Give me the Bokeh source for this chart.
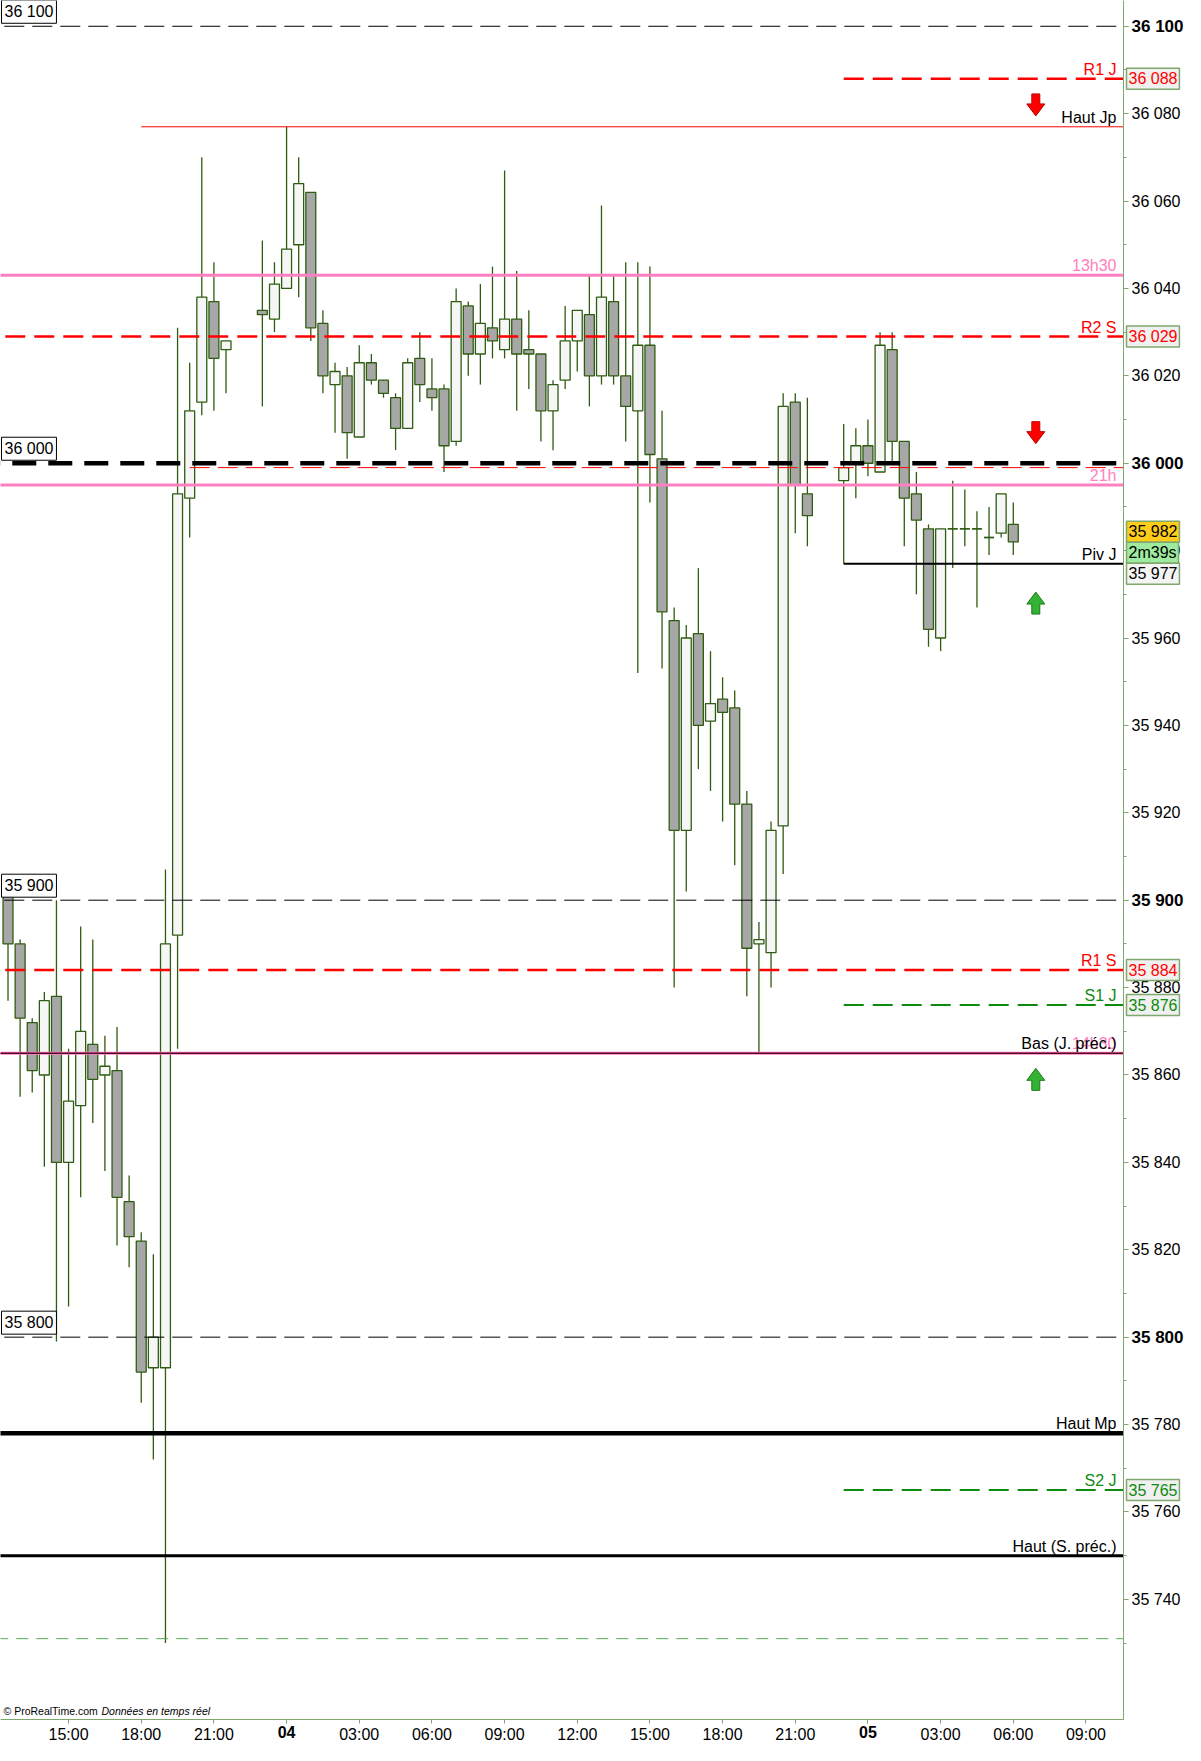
import numpy as np
import pandas as pd
from bokeh.plotting import figure
from bokeh.models import ColumnDataSource, Range1d, Label, FixedTicker, LinearAxis
from bokeh.embed import file_html
from bokeh.resources import INLINE

# half-hour candles, time in hours from 03 00:00 (market pause 22:00-23:00)
times = [12.5, 13, 13.5, 14, 14.5, 15, 15.5, 16, 16.5, 17, 17.5, 18, 18.5, 19, 19.5,
         20, 20.5, 21, 21.5, 23, 23.5, 24, 24.5, 25, 25.5, 26, 26.5, 27, 27.5,
         28, 28.5, 29, 29.5, 30, 30.5, 31, 31.5, 32, 32.5, 33, 33.5, 34, 34.5,
         35, 35.5, 36, 36.5, 37, 37.5, 38, 38.5, 39, 39.5, 40, 40.5, 41, 41.5,
         42, 42.5, 43, 43.5, 44, 44.5, 45, 45.5, 47, 47.5, 48, 48.5, 49, 49.5,
         50, 50.5, 51, 51.5, 52, 52.5, 53, 53.5, 54]
opens = [35901, 35890, 35872, 35860, 35878, 35840, 35853, 35867, 35860, 35861, 35831, 35822, 35793, 35793, 35892,
         35992, 36014, 36037, 36026, 36035, 36033, 36040, 36050, 36062, 36032, 36018, 36020, 36006, 36023,
         36019, 36015, 36008, 36024, 36017, 36017, 36005, 36036, 36025, 36031, 36026, 36033, 36026, 36025,
         36012, 36019, 36028, 36034, 36020, 36037, 36020, 36012, 36027, 36001, 35964, 35916, 35961, 35941,
         35946, 35944, 35922, 35890, 35888, 35917, 36014, 35993, 35996, 36000, 36004, 35998, 36026, 36005,
         35993, 35985, 35960, 35985, 35985, 35985, 35983, 35984, 35986]
highs = [35903, 35891, 35873, 35879, 35900, 35866, 35894, 35891, 35869, 35871, 35837, 35824, 35819, 35907, 36031,
         36023, 36070, 36046, 36028, 36051, 36046, 36077, 36070, 36062, 36035, 36023, 36022, 36027, 36025,
         36019, 36016, 36024, 36030, 36024, 36018, 36040, 36037, 36041, 36045, 36067, 36044, 36035, 36025,
         36019, 36036, 36035, 36043, 36059, 36043, 36046, 36046, 36045, 36012, 35967, 35963, 35976, 35957,
         35951, 35948, 35925, 35895, 35918, 36016, 36016, 36015, 36009, 36008, 36010, 36030, 36030, 36005,
         35998, 35986, 35985, 35996, 35994, 35989, 35990, 35993, 35991]
lows = [35877, 35855, 35856, 35839, 35799, 35807, 35832, 35849, 35838, 35821, 35816, 35785, 35772, 35730, 35866,
        35983, 36011, 36012, 36016, 36013, 36030, 36040, 36038, 36028, 36016, 36007, 36001, 36006, 36018,
        36015, 36003, 36008, 36014, 36012, 35998, 36004, 36020, 36018, 36024, 36024, 36012, 36017, 36005,
        36003, 36017, 36021, 36013, 36018, 36018, 36005, 35952, 35991, 35953, 35880, 35902, 35930, 35925,
        35918, 35908, 35878, 35865, 35880, 35906, 35984, 35981, 35977, 35992, 35997, 35998, 36000, 35981,
        35970, 35958, 35957, 35976, 35981, 35967, 35979, 35983, 35979]
closes = [35890, 35873, 35861, 35877, 35840, 35854, 35870, 35859, 35862, 35832, 35823, 35792, 35800, 35890, 35993,
          36012, 36038, 36024, 36028, 36034, 36041, 36049, 36064, 36031, 36020, 36021, 36007, 36023, 36019,
          36016, 36008, 36023, 36018, 36015, 36004, 36037, 36025, 36032, 36028, 36033, 36025, 36025, 36012,
          36018, 36028, 36035, 36020, 36038, 36020, 36013, 36027, 36002, 35966, 35916, 35960, 35940, 35945,
          35943, 35922, 35889, 35891, 35916, 36013, 35995, 35988, 35999, 36004, 36000, 36027, 36005, 35992,
          35987, 35962, 35985, 35985, 35985, 35985, 35983, 35993, 35982]

# price levels
round_levels = [36100, 36000, 35900, 35800]
round_labels = ["36 100", "36 000", "35 900", "35 800"]
r1_j, r2_s, r1_s = 36088, 36029, 35884
s1_j, s2_j = 35876, 35765
piv_j = 35977
haut_jp = 36077
haut_mp = 35778
haut_s_prec = 35750
bas_j_prec = 35865
pink_1330, pink_21h = 36043, 35995
thin_red = 35999
low_mark = 35731
last_price = 35982
timer_text = "2m39s"
jour_start = 47      # daily levels start at 23:00 on the 04
haut_jp_start = 18
thin_red_start = 20

arrow_prices = [36082, 36007, 35968, 35859]
arrow_dirs = ["down", "down", "up", "up"]
arrow_time = 54.93

y_ticks = [35740, 35760, 35780, 35800, 35820, 35840, 35860, 35880, 35900, 35920,
           35940, 35960, 35980, 36000, 36020, 36040, 36060, 36080, 36100]
y_minor = [35730, 35750, 35770, 35790, 35810, 35830, 35850, 35870, 35890, 35910,
           35930, 35950, 35970, 35990, 36010, 36030, 36050, 36070, 36090]
y_bold = [35800, 35900, 36000, 36100]
x_ticks = [15, 18, 21, 24, 27, 30, 33, 36, 39, 42, 45, 48, 51, 54, 57]
x_tick_labels = ["15:00", "18:00", "21:00", "04", "03:00", "06:00", "09:00", "12:00",
                 "15:00", "18:00", "21:00", "05", "03:00", "06:00", "09:00"]
x_bold = ["04", "05"]

# chart area: data window inside a full-canvas frame, axes pinned at its edges
X0, X1 = 12.19, 58.55
Y0, Y1 = 35712.5, 36105.9
W, H = 1185, 1745
FW, FH = 1123, 1719
hpp = (X1 - X0) / FW
ppp = (Y1 - Y0) / FH
XR = X1 + (W - FW) * hpp
YB = Y0 - (H - FH) * ppp

FONT = "Liberation Sans"
RED = "#ff0000"
GREEN = "#0e8a0e"
PINK = "#ff80c0"
AXIS = "#7fa86e"
WICK = "#2f5c12"


def fmt(v):
    return f"{v:,}".replace(",", " ")


p = figure(width=W, height=H, x_range=Range1d(X0, XR), y_range=Range1d(YB, Y1),
           output_backend="svg", toolbar_location=None,
           x_axis_location=None, y_axis_location=None, min_border=0)
p.outline_line_color = None
p.grid.visible = False
p.background_fill_color = "white"


def style_axis(ax, size, bold=False):
    ax.axis_line_color = AXIS
    ax.major_tick_line_color = AXIS
    ax.minor_tick_line_color = AXIS
    ax.major_tick_in = 0
    ax.minor_tick_in = 0
    ax.major_label_text_font = FONT
    ax.major_label_text_font_size = size
    ax.major_label_text_color = "black"
    if bold:
        ax.major_label_text_font_style = "bold"


ya = LinearAxis(fixed_location=X1, bounds=(Y0, Y1),
                ticker=FixedTicker(ticks=y_ticks, minor_ticks=y_minor),
                major_label_overrides={t: ("" if t in y_bold else fmt(t)) for t in y_ticks})
ya_b = LinearAxis(fixed_location=X1, bounds=(Y0, Y1), ticker=FixedTicker(ticks=y_bold),
                  major_label_overrides={t: fmt(t) for t in y_bold})
xa = LinearAxis(fixed_location=Y0, bounds=(X0, X1), ticker=FixedTicker(ticks=x_ticks),
                major_label_overrides={t: ("" if lab in x_bold else lab)
                                       for t, lab in zip(x_ticks, x_tick_labels)})
bold_x = [t for t, lab in zip(x_ticks, x_tick_labels) if lab in x_bold]
xa_b = LinearAxis(fixed_location=Y0, bounds=(X0, X1), ticker=FixedTicker(ticks=bold_x),
                  major_label_overrides={t: lab for t, lab in zip(x_ticks, x_tick_labels)
                                         if lab in x_bold})
style_axis(ya, "16px")
style_axis(ya_b, "17px", bold=True)
style_axis(xa, "16px")
style_axis(xa_b, "16px", bold=True)
for ax in (ya, ya_b):
    ax.major_tick_out = 5
    ax.minor_tick_out = 3
    ax.major_label_standoff = 3
for ax in (xa, xa_b):
    ax.major_tick_out = 4
    ax.minor_tick_out = 0
    ax.major_label_standoff = 2
p.add_layout(ya, "right")
p.add_layout(ya_b, "right")
p.add_layout(xa, "below")
p.add_layout(xa_b, "below")

# candles
df = pd.DataFrame(dict(t=times, o=opens, h=highs, l=lows, c=closes))
df["top"] = df[["o", "c"]].max(axis=1)
df["bottom"] = df[["o", "c"]].min(axis=1)
df["fill"] = np.where(df["c"] > df["o"], "#f6f6f6", "#a7a7a7")
src = ColumnDataSource(df)
BODY = 0.41
p.segment(x0="t", y0="l", x1="t", y1="h", source=src, line_color=WICK, line_width=1.3)
p.vbar(x="t", width=BODY, top="top", bottom="bottom", fill_color="fill",
       line_color=WICK, line_width=1.3, source=src)
doji = df[df["o"] == df["c"]]
p.segment(x0=doji["t"] - BODY / 2, y0=doji["o"], x1=doji["t"] + BODY / 2, y1=doji["o"],
          line_color=WICK, line_width=1.3)


# horizontal levels, ending at the price axis
def hline(v, color, width, dash="solid", start=None):
    x0 = X0 - 1 if start is None else start
    p.segment(x0=[x0], y0=[v], x1=[X1], y1=[v], line_color=color,
              line_width=width, line_dash=dash)


for v in round_levels:
    if v == 36000:
        hline(v, "black", 4.5, "24 12")
    else:
        hline(v, "black", 1, "20 8")
hline(pink_1330, PINK, 3)
hline(pink_21h, PINK, 3)
hline(bas_j_prec, PINK, 3)
hline(bas_j_prec, "#5a0828", 1.5)
hline(r2_s, RED, 2.5, "20 9")
hline(r1_s, RED, 2.5, "20 9")
hline(haut_mp, "black", 4.5)
hline(haut_s_prec, "black", 3)
hline(low_mark, "#5aa85a", 1, "12 8")
hline(haut_jp, RED, 1, start=haut_jp_start)
hline(thin_red, RED, 1, "20 8", start=thin_red_start)
hline(r1_j, RED, 2.5, "20 9", start=jour_start)
hline(s1_j, GREEN, 2, "20 9", start=jour_start)
hline(s2_j, GREEN, 2, "20 9", start=jour_start)
hline(piv_j, "black", 2, start=jour_start)

# arrows (shape in pixels around the anchor)
shape = [(-4, 11), (4, 11), (4, 1), (9, 1), (0, -11), (-9, 1), (-4, 1)]
for v, d in zip(arrow_prices, arrow_dirs):
    sgn = 1 if d == "down" else -1
    xs = [arrow_time + dx * hpp for dx, dy in shape]
    ys = [v + sgn * dy * ppp for dx, dy in shape]
    if d == "down":
        p.patch(xs, ys, fill_color="#ff0000", line_color="#c00000", line_width=1)
    else:
        p.patch(xs, ys, fill_color="#33b233", line_color="#1c7a1c", line_width=1)


# texts on the right end of the levels
def tag(v, text, color):
    p.add_layout(Label(x=X1, y=v, text=text, x_offset=-7, y_offset=1, text_align="right",
                       text_baseline="bottom", text_font=FONT, text_font_size="16px",
                       text_color=color))


tag(r1_j, "R1 J", RED)
tag(haut_jp, "Haut Jp", "black")
tag(pink_1330, "13h30", PINK)
tag(r2_s, "R2 S", RED)
tag(pink_21h, "21h", PINK)
tag(piv_j, "Piv J", "black")
tag(r1_s, "R1 S", RED)
tag(s1_j, "S1 J", GREEN)
tag(bas_j_prec, "14h30", PINK)
tag(bas_j_prec, "Bas (J. préc.)", "black")
tag(haut_mp, "Haut Mp", "black")
tag(s2_j, "S2 J", GREEN)
tag(haut_s_prec, "Haut (S. préc.)", "black")

# boxed round numbers on the left
for v, lab in zip(round_levels, round_labels):
    p.add_layout(Label(x=X0, y=v, text=lab, x_offset=1, y_offset=3, text_baseline="bottom",
                       text_font=FONT, text_font_size="16px", text_color="black",
                       background_fill_color="white", border_line_color="black",
                       border_line_width=1, padding=3))


# value boxes on the price axis
def vbox(v, text, color, bg, dy=0):
    p.add_layout(Label(x=X1, y=v, text=text, x_offset=3, y_offset=dy, text_baseline="middle",
                       text_font=FONT, text_font_size="16px", text_color=color,
                       background_fill_color=bg, border_line_color=AXIS,
                       border_line_width=1.5, padding=2))


vbox(r1_j, fmt(r1_j), RED, "#f0f0f0")
vbox(r2_s, fmt(r2_s), RED, "#f0f0f0")
vbox(r1_s, fmt(r1_s), RED, "#f0f0f0")
vbox(s1_j, fmt(s1_j), GREEN, "#f0f0f0")
vbox(s2_j, fmt(s2_j), GREEN, "#f0f0f0")
mid = (last_price + piv_j) / 2
vbox(mid, fmt(last_price), "black", "#ffcc1a", 21)
vbox(mid, timer_text, "black", "#9eea9e", 0)
vbox(mid, fmt(piv_j), "black", "#f4f4f4", -21)

# copyright
p.add_layout(Label(x=X0, y=Y0, text="© ProRealTime.com", x_offset=3, y_offset=3,
                   text_font=FONT, text_font_size="10.5px", text_color="black"))
p.add_layout(Label(x=X0, y=Y0, text="Données en temps réel", x_offset=101, y_offset=3,
                   text_font=FONT, text_font_size="10.5px", text_font_style="italic",
                   text_color="black"))

open("out.html", "w").write(file_html(p, INLINE))
